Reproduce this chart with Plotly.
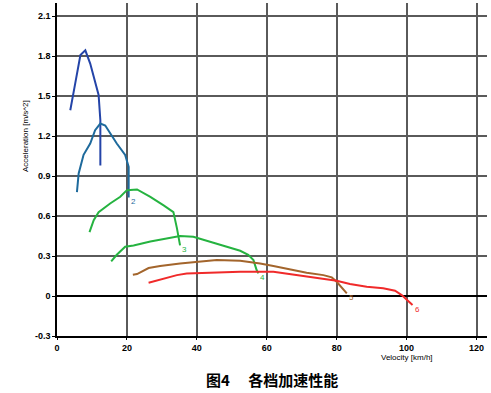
import plotly.graph_objects as go

# Gear curves: velocity [km/h] and acceleration [m/s^2]
g1_v = [3.8, 4.3, 5.2, 6.7, 8.1, 9.5, 10.5, 11.9, 12.4, 12.4]
g1_a = [1.395, 1.46, 1.595, 1.81, 1.845, 1.745, 1.645, 1.51, 1.32, 0.98]

g2_v = [5.7, 6.2, 7.6, 9.5, 10.9, 12.4, 13.8, 17.1, 19.5, 20.5, 20.5]
g2_a = [0.78, 0.92, 1.06, 1.145, 1.245, 1.295, 1.28, 1.145, 1.06, 0.97, 0.74]

g3_v = [9.3, 10.5, 11.9, 15.2, 18.1, 20.0, 22.9, 26.7, 30.5, 33.3, 34.3, 35.2]
g3_a = [0.48, 0.57, 0.63, 0.695, 0.745, 0.795, 0.80, 0.745, 0.68, 0.63, 0.51, 0.38]

g4_v = [15.5, 17.1, 19.5, 21.9, 26.7, 31.4, 35.2, 39.0, 42.9, 48.6, 52.4, 54.7, 56.2, 57.1, 57.6]
g4_a = [0.26, 0.31, 0.37, 0.38, 0.41, 0.43, 0.45, 0.445, 0.415, 0.37, 0.34, 0.31, 0.27, 0.195, 0.17]

g5_v = [21.7, 22.9, 26.2, 29.5, 35.2, 41.0, 45.7, 52.4, 58.1, 61.9, 66.7, 71.4, 76.2, 78.6, 80.0, 81.4, 82.9]
g5_a = [0.16, 0.165, 0.21, 0.225, 0.245, 0.257, 0.27, 0.265, 0.245, 0.225, 0.20, 0.175, 0.157, 0.14, 0.107, 0.065, 0.02]

g6_v = [26.2, 30.5, 34.3, 37.1, 42.9, 52.4, 61.9, 66.7, 71.4, 76.2, 80.0, 83.8, 88.6, 93.3, 96.7, 98.6, 100.0, 101.7]
g6_a = [0.10, 0.13, 0.157, 0.17, 0.175, 0.182, 0.182, 0.165, 0.145, 0.127, 0.115, 0.09, 0.07, 0.058, 0.04, 0.007, -0.03, -0.068]

gear_labels = ["1", "2", "3", "4", "5", "6"]
x_ticks = [0, 20, 40, 60, 80, 100, 120]
y_ticks = [-0.3, 0, 0.3, 0.6, 0.9, 1.2, 1.5, 1.8, 2.1]
y_tick_text = ["-0.3", "0", "0.3", "0.6", "0.9", "1.2", "1.5", "1.8", "2.1"]

colors = ["#2444a8", "#1e6a9c", "#25b340", "#25b340", "#a3652c", "#f02a2a"]
series = [(g1_v, g1_a), (g2_v, g2_a), (g3_v, g3_a), (g4_v, g4_a), (g5_v, g5_a), (g6_v, g6_a)]

fig = go.Figure()
for (v, a), c in zip(series, colors):
    fig.add_trace(go.Scatter(x=v, y=a, mode="lines", line=dict(color=c, width=2),
                             showlegend=False, hoverinfo="skip"))

# gear labels at curve ends (gears 2..6)
for i in range(1, 6):
    v, a = series[i]
    fig.add_annotation(x=v[-1], y=a[-1], text=gear_labels[i], showarrow=False,
                       xanchor="left", yanchor="middle", xshift=0, yshift=-4,
                       font=dict(family="Arial", size=8, color=colors[i]))

fig.add_annotation(xref="paper", yref="paper", x=-0.09, y=0.6,
                   text="Acceleration [m/s^2]", textangle=-90, showarrow=False,
                   font=dict(family="Arial", size=8, color="black"))
fig.add_annotation(x=100, xref="x", yref="paper", y=-0.083,
                   text="Velocity [km/h]", showarrow=False,
                   font=dict(family="Arial", size=8, color="black"))
fig.add_annotation(xref="paper", yref="paper", x=0.5, y=-0.132, yanchor="middle",
                   text="<b>图4\u3000&nbsp;各档加速性能</b>", showarrow=False,
                   font=dict(family="Noto Sans CJK SC", size=15, color="black"))

fig.update_xaxes(range=[0, 123], tickvals=x_ticks, ticktext=[f"<b>{t}</b>" for t in x_ticks],
                 showgrid=True, gridcolor="#5a5a5a", gridwidth=1.5,
                 showline=True, linecolor="black", linewidth=1.5,
                 ticks="outside", ticklen=2, tickcolor="black",
                 tickfont=dict(family="Arial", size=9, color="black"), zeroline=False)
fig.update_yaxes(range=[-0.3, 2.2], tickvals=y_ticks, ticktext=[f"<b>{t}</b>" for t in y_tick_text],
                 showgrid=True, gridcolor="#5a5a5a", gridwidth=1.5,
                 showline=True, linecolor="black", linewidth=1.5,
                 ticks="outside", ticklen=3, tickcolor="black",
                 tickfont=dict(family="Arial", size=9, color="black"),
                 zeroline=True, zerolinecolor="black", zerolinewidth=1.5)

fig.update_layout(width=491, height=393, margin=dict(l=57, r=4, t=3, b=57),
                  plot_bgcolor="white", paper_bgcolor="white")

fig.write_html("out.html")
